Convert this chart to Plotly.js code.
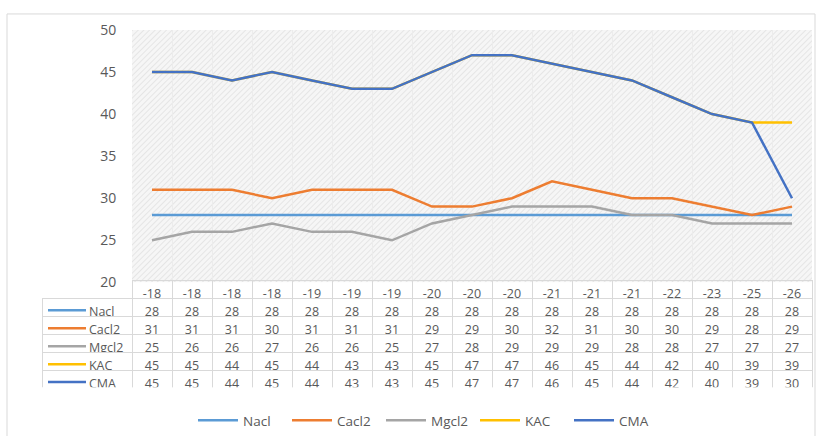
<!DOCTYPE html>
<html>
<head>
<meta charset="utf-8">
<script src="https://cdn.plot.ly/plotly-3.0.1.min.js"></script>
<style>
html,body{margin:0;padding:0;background:#fff;}
#chart{width:816px;height:436px;}
</style>
</head>
<body>
<div id="chart"></div>
<script>
const categories = ['-18','-18','-18','-18','-19','-19','-19','-20','-20','-20','-21','-21','-21','-22','-23','-25','-26'];
const seriesNames = ['Nacl','Cacl2','Mgcl2','KAC','CMA'];
const nacl  = [28,28,28,28,28,28,28,28,28,28,28,28,28,28,28,28,28];
const cacl2 = [31,31,31,30,31,31,31,29,29,30,32,31,30,30,29,28,29];
const mgcl2 = [25,26,26,27,26,26,25,27,28,29,29,29,28,28,27,27,27];
const kac   = [45,45,44,45,44,43,43,45,47,47,46,45,44,42,40,39,39];
const cma   = [45,45,44,45,44,43,43,45,47,47,46,45,44,42,40,39,30];
const colors = ['#5B9BD5','#ED7D31','#A5A5A5','#FFC000','#4472C4'];
const yTicks = [20,25,30,35,40,45,50];

const seriesValues = [nacl, cacl2, mgcl2, kac, cma];
const xIdx = categories.map((_, i) => i);
const W = 816, H = 436;
const px = v => v / W, py = v => 1 - v / H;

const textColor = '#595959';
const font = "'Open Sans', 'Liberation Sans', sans-serif";
const NB = '\u00a0';

const traces = seriesNames.map((name, k) => ({
  type: 'scatter', mode: 'lines', name: name,
  x: xIdx, y: seriesValues[k],
  line: {color: colors[k], width: 2.5},
  xaxis: 'x', yaxis: 'y', hoverinfo: 'skip'
}));

// Data table below the plot
const tableTop = 281, rowH = 18, keyLeft = 42, keyW = 90, colW = 40, textDrop = 3;
const keyCol = seriesNames.map(n => NB.repeat(12) + n);
const tableValues = [keyCol].concat(categories.map((_, i) => seriesValues.map(s => s[i])));
const gridC = '#d9d9d9';
traces.push({
  type: 'table',
  domain: {x: [px(keyLeft), px(keyLeft + keyW + colW * categories.length)],
           y: [py(tableTop + rowH * (seriesNames.length + 1)), py(tableTop)]},
  columnwidth: [keyW].concat(categories.map(() => colW)),
  header: {
    values: [''].concat(categories),
    align: 'center',
    height: rowH,
    fill: {color: 'rgba(0,0,0,0)'},
    line: {color: ['rgba(0,0,0,0)'].concat(categories.map(() => gridC)), width: 1},
    font: {family: font, size: 12.5, color: textColor}
  },
  cells: {
    values: tableValues,
    align: ['left'].concat(categories.map(() => 'center')),
    height: rowH,
    fill: {color: '#ffffff'},
    line: {color: gridC, width: 1},
    font: {family: font, size: 12.5, color: textColor}
  },
  showlegend: false
});

// legend-key line segments inside the table's first column
const keyShapes = seriesNames.map((n, k) => {
  const yc = tableTop + rowH * (k + 1) + rowH / 2 + textDrop;
  return {
    type: 'line', xref: 'paper', yref: 'paper', layer: 'above',
    x0: px(keyLeft + 6), x1: px(keyLeft + 44), y0: py(yc), y1: py(yc),
    line: {color: colors[k], width: 2.5}
  };
});

// subtle hatched background image for the plot area
const hatchSvg = "<svg xmlns='http://www.w3.org/2000/svg' width='680' height='253'>" +
  "<defs><pattern id='p' width='4' height='4' patternUnits='userSpaceOnUse' patternTransform='rotate(45)'>" +
  "<rect width='4' height='4' fill='#f6f6f6'/><line x1='0' y1='0' x2='0' y2='4' stroke='#dedede' stroke-width='1.4'/></pattern></defs>" +
  "<rect width='680' height='253' fill='url(#p)'/></svg>";

const layout = {
  width: W, height: H,
  margin: {l: 0, r: 0, t: 0, b: 0},
  paper_bgcolor: '#ffffff',
  plot_bgcolor: 'rgba(0,0,0,0)',
  showlegend: true,
  font: {family: font, color: textColor},
  xaxis: {
    domain: [px(132), px(812)],
    range: [-0.5, categories.length - 0.5],
    tickmode: 'linear', tick0: -0.5, dtick: 1,
    showticklabels: false, ticks: '',
    showgrid: true, gridcolor: '#ececec', gridwidth: 1,
    zeroline: false, showline: false, fixedrange: true
  },
  yaxis: {
    domain: [py(283), py(30)],
    range: [20, 50],
    tickmode: 'array', tickvals: yTicks, ticktext: yTicks.map(String),
    ticks: 'outside', ticklen: 12, tickcolor: 'rgba(0,0,0,0)',
    tickfont: {family: font, size: 14, color: textColor},
    showgrid: false, zeroline: false, showline: false, fixedrange: true
  },
  legend: {
    orientation: 'h', x: px(428), xanchor: 'center', y: py(421), yanchor: 'middle',
    font: {family: font, size: 13.5, color: textColor},
    itemwidth: 40, entrywidth: 39, traceorder: 'normal'
  },
  images: [{
    source: 'data:image/svg+xml;charset=utf-8,' + encodeURIComponent(hatchSvg),
    xref: 'paper', yref: 'paper',
    x: px(132), y: py(30), sizex: px(812) - px(132), sizey: py(30) - py(283),
    xanchor: 'left', yanchor: 'top', sizing: 'stretch', layer: 'below'
  }],
  shapes: [{
    type: 'rect', xref: 'paper', yref: 'paper',
    x0: px(7), x1: px(815), y0: py(440), y1: py(14),
    line: {color: '#d9d9d9', width: 1}, fillcolor: 'rgba(0,0,0,0)', layer: 'below'
  }].concat(keyShapes)
};

Plotly.newPlot('chart', traces, layout, {displayModeBar: false, staticPlot: true});
</script>
</body>
</html>
